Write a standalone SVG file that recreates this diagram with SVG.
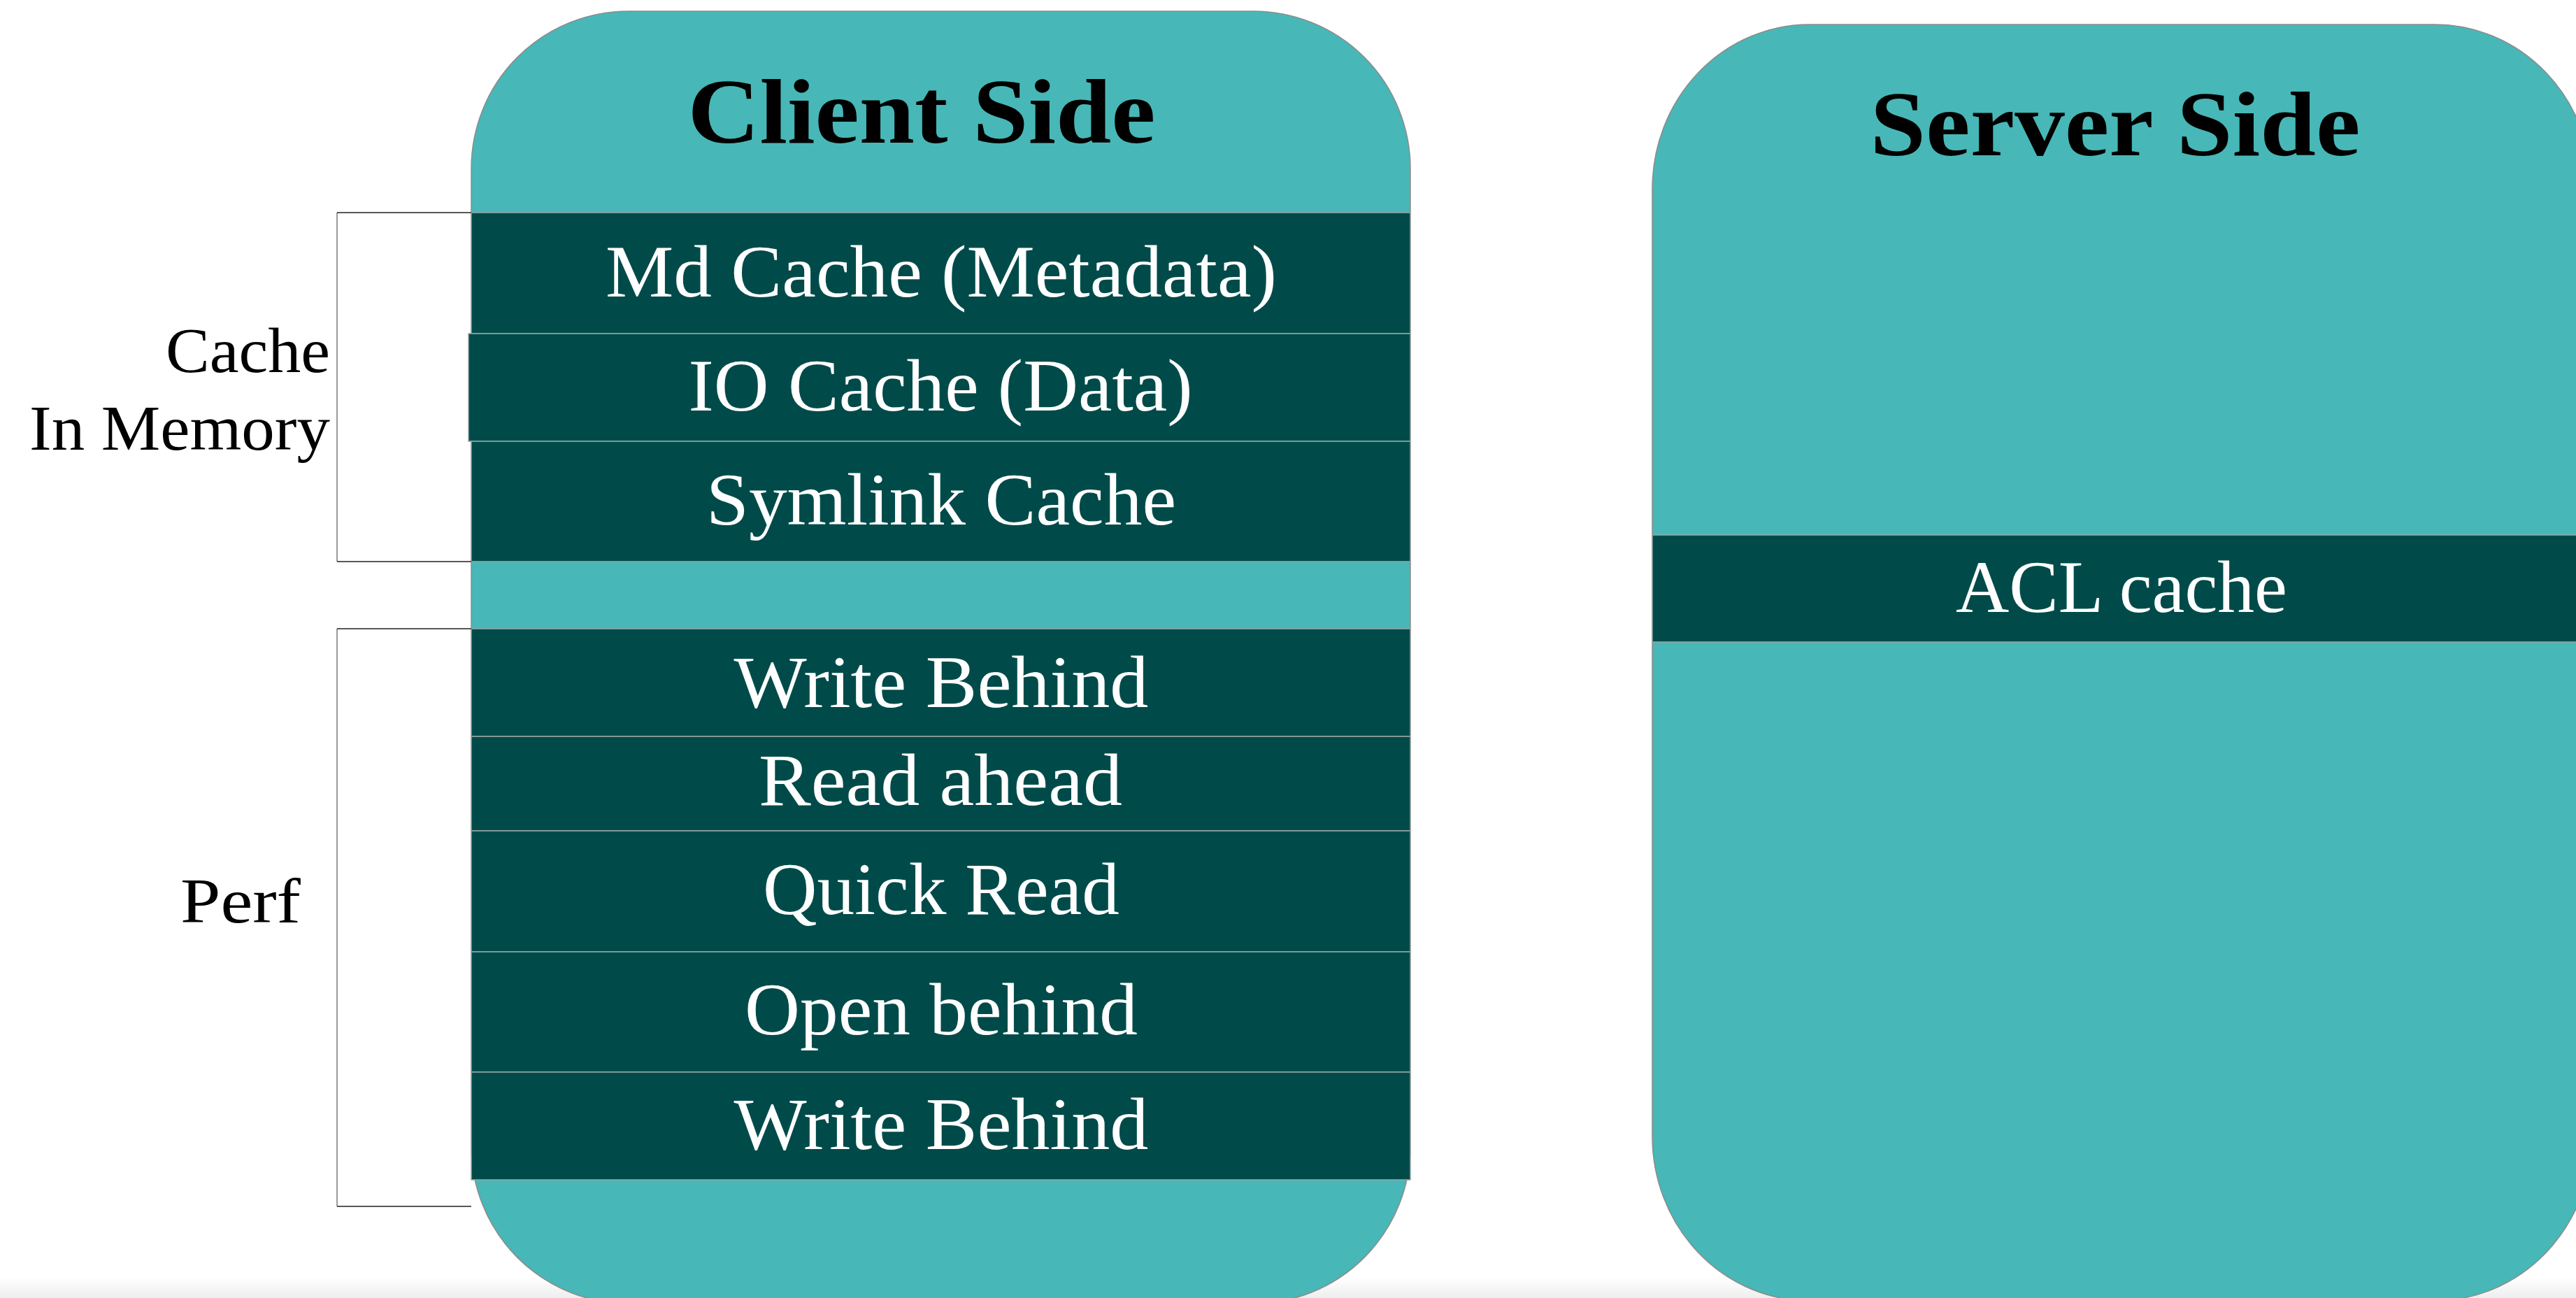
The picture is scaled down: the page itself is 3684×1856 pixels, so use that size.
<svg xmlns="http://www.w3.org/2000/svg" width="3684" height="1856" viewBox="0 0 3684 1856">
<defs>
<linearGradient id="floor" x1="0" y1="0" x2="0" y2="1">
<stop offset="0" stop-color="#ffffff"/>
<stop offset="1" stop-color="#eeeeee"/>
</linearGradient>
</defs>
<style>
.box{fill:#48B7B7;stroke:#8c8c8c;stroke-width:1.5}
.band{fill:#004B4A;stroke:#9aa6a6;stroke-width:1.5}
.title{font-family:"Liberation Serif",serif;font-weight:bold;font-size:132px;fill:#000;text-anchor:middle}
.item{font-family:"Liberation Serif",serif;font-size:105px;fill:#fff;text-anchor:middle}
.label{font-family:"Liberation Serif",serif;font-size:92px;fill:#000;text-anchor:end}
.brv{fill:none;stroke:#7a7a7a;stroke-width:1.5}
.brh{fill:none;stroke:#222;stroke-width:1.5}
</style>
<rect x="0" y="0" width="3684" height="1856" fill="#ffffff"/>
<rect x="0" y="1826" width="3684" height="30" fill="url(#floor)"/>

<g id="client-side">
<rect class="box" x="674" y="16" width="1343" height="1848" rx="225" ry="225"/>
<text class="title" x="1318" y="204" textLength="669" lengthAdjust="spacingAndGlyphs">Client Side</text>
</g>
<g id="md-cache">
<rect class="band" x="674" y="304" width="1343" height="173"/>
<text class="item" x="1346" y="424" textLength="960" lengthAdjust="spacingAndGlyphs">Md Cache (Metadata)</text>
</g>
<g id="io-cache">
<rect class="band" x="670" y="477" width="1347" height="154"/>
<text class="item" x="1345" y="587" textLength="721" lengthAdjust="spacingAndGlyphs">IO Cache (Data)</text>
</g>
<g id="symlink-cache">
<rect class="band" x="674" y="631" width="1343" height="172"/>
<text class="item" x="1346" y="750" textLength="672" lengthAdjust="spacingAndGlyphs">Symlink Cache</text>
</g>
<g id="write-behind-1">
<rect class="band" x="674" y="899" width="1343" height="154"/>
<text class="item" x="1346" y="1011" textLength="593" lengthAdjust="spacingAndGlyphs">Write Behind</text>
</g>
<g id="read-ahead">
<rect class="band" x="674" y="1053" width="1343" height="135"/>
<text class="item" x="1345" y="1151" textLength="520" lengthAdjust="spacingAndGlyphs">Read ahead</text>
</g>
<g id="quick-read">
<rect class="band" x="674" y="1188" width="1343" height="173"/>
<text class="item" x="1346" y="1307" textLength="510" lengthAdjust="spacingAndGlyphs">Quick Read</text>
</g>
<g id="open-behind">
<rect class="band" x="674" y="1361" width="1343" height="172"/>
<text class="item" x="1346" y="1479" textLength="562" lengthAdjust="spacingAndGlyphs">Open behind</text>
</g>
<g id="write-behind-2">
<rect class="band" x="674" y="1533" width="1343" height="154"/>
<text class="item" x="1346" y="1643" textLength="593" lengthAdjust="spacingAndGlyphs">Write Behind</text>
</g>

<g id="server-side">
<rect class="box" x="2363" y="35" width="1344" height="1825" rx="225" ry="235"/>
<text class="title" x="3025" y="222" textLength="701" lengthAdjust="spacingAndGlyphs">Server Side</text>
</g>
<g id="acl-cache">
<rect class="band" x="2363" y="765" width="1340" height="153"/>
<text class="item" x="3034" y="875" textLength="474" lengthAdjust="spacingAndGlyphs">ACL cache</text>
</g>

<g id="label-cache">
<text class="label" x="472" y="532" textLength="235" lengthAdjust="spacingAndGlyphs">Cache</text>
<text class="label" x="472" y="643" textLength="430" lengthAdjust="spacingAndGlyphs">In Memory</text>
</g>
<g id="label-perf">
<text class="label" x="430" y="1319" textLength="172" lengthAdjust="spacingAndGlyphs">Perf</text>
</g>

<g id="connectors">
<path class="brv" d="M482 304 V803"/>
<path class="brh" d="M482 304 H674 M482 803 H674"/>
<path class="brv" d="M482 899 V1725"/>
<path class="brh" d="M482 899 H674 M482 1725 H674"/>
</g>
</svg>
